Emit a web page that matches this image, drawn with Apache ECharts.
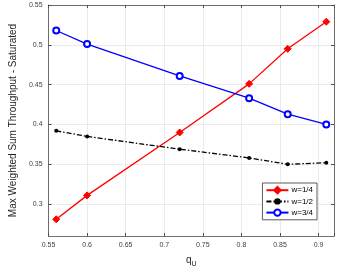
<!DOCTYPE html>
<html>
<head>
<meta charset="utf-8">
<script src="https://cdn.jsdelivr.net/npm/echarts@6/dist/echarts.min.js"></script>
<style>
  html, body { margin: 0; padding: 0; background: #fff; }
  #chart { width: 338px; height: 273px; }
</style>
</head>
<body>
<div id="chart"></div>
<script>
// data
var qU = [0.56, 0.6, 0.72, 0.81, 0.86, 0.91];
var w14 = [0.281, 0.311, 0.390, 0.451, 0.495, 0.529];
var w12 = [0.392, 0.385, 0.369, 0.358, 0.350, 0.352];
var w34 = [0.518, 0.501, 0.461, 0.433, 0.413, 0.400];
var seriesNames = ['w=1/4', 'w=1/2', 'w=3/4'];
var yTicks = [0.3, 0.35, 0.4, 0.45, 0.5, 0.55];

function pairs(ys) {
    return qU.map(function (x, i) { return [x, ys[i]]; });
}

var myChart = echarts.init(document.getElementById('chart'));
var font = 'Liberation Sans, Arial, sans-serif';
var axisCol = '#4d4d4d';

var option = {
    animation: false,
    grid: { left: 33, right: 4, top: 5, bottom: 31 },
    legend: {
        orient: 'vertical',
        right: 21, top: 183,
        backgroundColor: '#fff',
        borderColor: '#333', borderWidth: 0.8,
        padding: [3, 4, 3, 3],
        itemGap: 3, itemWidth: 22, itemHeight: 8,
        textStyle: { fontFamily: font, fontSize: 8, color: '#000', padding: [0, 0, 0, -2] },
        data: seriesNames
    },
    xAxis: [{
        type: 'value', min: 0.55, max: 0.92, interval: 0.05,
        name: '{q|q}{s|U}', nameLocation: 'middle', nameGap: 17,
        nameTextStyle: {
            rich: {
                q: { fontFamily: font, fontSize: 10, color: '#262626' },
                s: { fontFamily: font, fontSize: 7, color: '#262626', padding: [8, 0, 0, 0] }
            }
        },
        axisLine: { lineStyle: { color: axisCol, width: 0.8 } },
        axisTick: { inside: true, length: 3, lineStyle: { color: axisCol } },
        axisLabel: {
            fontFamily: font, fontSize: 7, color: '#404040', margin: 6,
            formatter: function (v) { return v > 0.915 ? '' : String(+v.toFixed(2)); }
        },
        splitLine: { show: true, lineStyle: { color: '#e6e6e6', width: 0.8 } }
    }, {
        type: 'value', position: 'top', min: 0.55, max: 0.92, interval: 0.05,
        axisLine: { show: true, lineStyle: { color: axisCol, width: 0.8 } },
        axisTick: { inside: true, length: 3, lineStyle: { color: axisCol } },
        axisLabel: { show: false }, splitLine: { show: false }
    }],
    yAxis: [{
        type: 'value', min: 0.26, max: 0.55,
        name: 'Max Weighted Sum Throughput - Saturated',
        nameLocation: 'middle', nameGap: 24,
        nameTextStyle: { fontFamily: font, fontSize: 10, color: '#262626' },
        axisLine: { show: true, lineStyle: { color: axisCol, width: 0.8 } },
        axisTick: { inside: true, length: 3, customValues: yTicks, lineStyle: { color: axisCol } },
        axisLabel: {
            fontFamily: font, fontSize: 7, color: '#404040', margin: 6,
            customValues: yTicks,
            formatter: function (v) { return String(+v.toFixed(2)); }
        },
        splitLine: { show: true, lineStyle: { color: '#e6e6e6', width: 0.8 } }
    }, {
        type: 'value', position: 'right', min: 0.26, max: 0.55,
        axisLine: { show: true, lineStyle: { color: axisCol, width: 0.8 } },
        axisTick: { inside: true, length: 3, customValues: yTicks, lineStyle: { color: axisCol } },
        axisLabel: { show: false }, splitLine: { show: false }
    }],
    series: [
        {
            name: seriesNames[0], type: 'line', data: pairs(w14),
            symbol: 'diamond', symbolSize: 7,
            itemStyle: { color: '#ff0000', borderColor: '#ff0000', borderWidth: 1 },
            lineStyle: { color: '#ff0000', width: 1.3 }
        },
        {
            name: seriesNames[1], type: 'line', data: pairs(w12),
            symbol: 'circle', symbolSize: 4,
            itemStyle: { color: '#000' },
            lineStyle: { color: '#000', width: 1.3, type: [5, 2, 1.5, 2] }
        },
        {
            name: seriesNames[2], type: 'line', data: pairs(w34),
            symbol: 'emptyCircle', symbolSize: 6,
            itemStyle: { color: '#0000ff', borderColor: '#0000ff', borderWidth: 1.3 },
            lineStyle: { color: '#0000ff', width: 1.3 }
        }
    ]
};
myChart.setOption(option);
</script>
</body>
</html>
